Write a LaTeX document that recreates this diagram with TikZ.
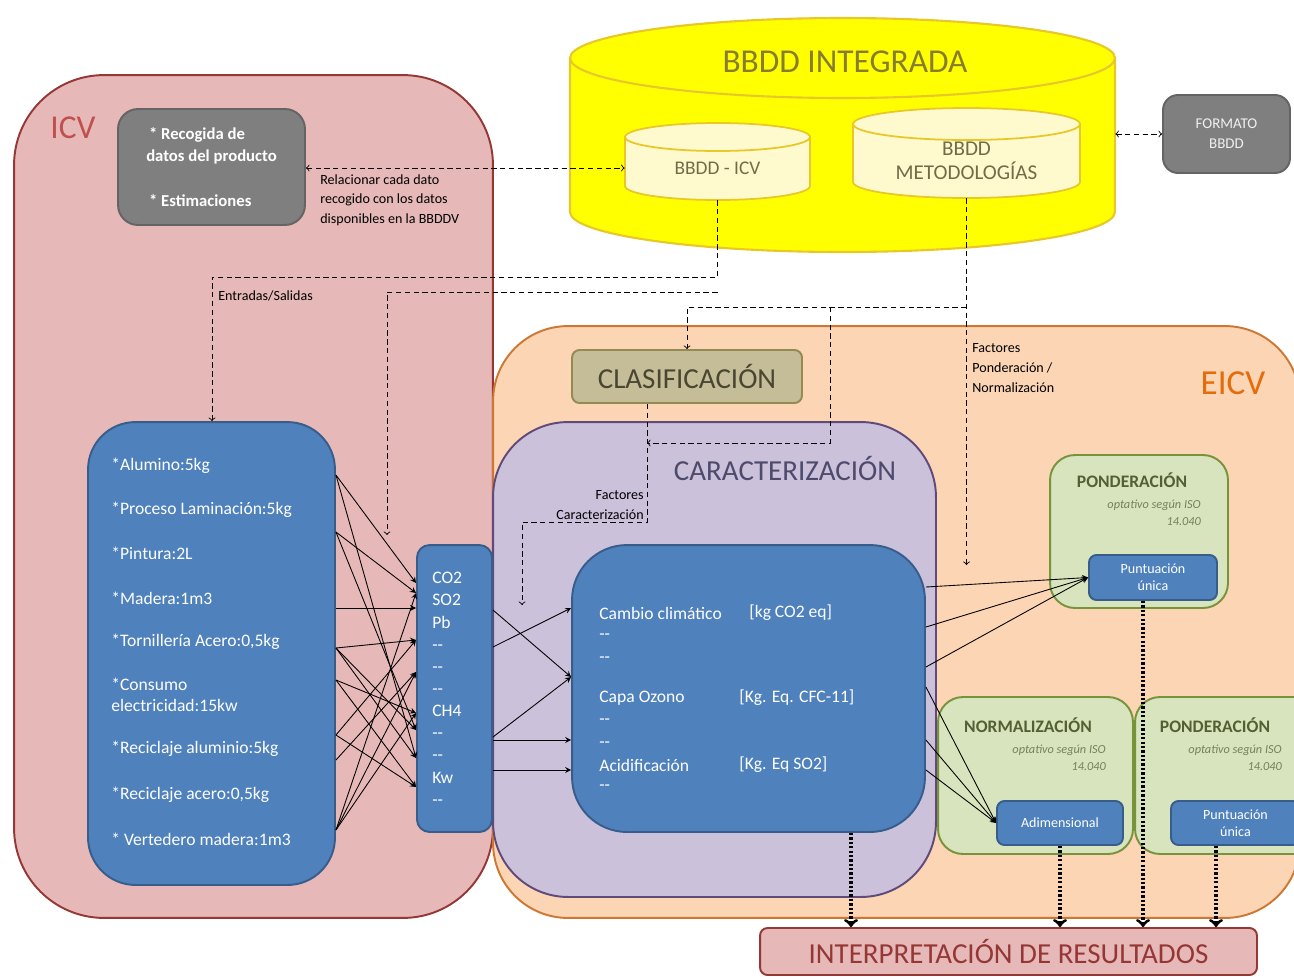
\documentclass[tikz,border=0pt]{standalone}
\usepackage{fontspec}
\setmainfont{Carlito}
\definecolor{icvfill}{RGB}{230,185,184}
\definecolor{icvline}{RGB}{149,55,53}
\definecolor{icvtext}{RGB}{192,80,77}
\definecolor{eicvfill}{RGB}{252,213,181}
\definecolor{eicvline}{RGB}{205,120,50}
\definecolor{eicvtext}{RGB}{228,108,10}
\definecolor{carfill}{RGB}{204,193,218}
\definecolor{carline}{RGB}{96,74,123}
\definecolor{cartext}{RGB}{78,74,108}
\definecolor{bluefill}{RGB}{79,129,189}
\definecolor{blueline}{RGB}{56,93,138}
\definecolor{greenfill}{RGB}{215,228,189}
\definecolor{greenline}{RGB}{119,147,60}
\definecolor{greentext}{RGB}{84,96,52}
\definecolor{olivefill}{RGB}{196,189,151}
\definecolor{oliveline}{RGB}{148,138,84}
\definecolor{clastext}{RGB}{74,70,50}
\definecolor{grayfill}{RGB}{127,127,127}
\definecolor{grayline}{RGB}{100,100,100}
\definecolor{dbyellow}{RGB}{255,255,0}
\definecolor{dbline}{RGB}{232,200,40}
\definecolor{dbcream}{RGB}{255,250,205}
\definecolor{dbtext}{RGB}{135,125,50}
\definecolor{dbsmalltext}{RGB}{112,108,72}
\tikzset{
  box/.style={draw,line width=1.1pt,inner sep=0pt},
  bluebox/.style={box,fill=bluefill,draw=blueline,text=white,rounded corners=0.15cm,
    align=center,font=\fontsize{8}{9.5}\selectfont},
  greenbox/.style={box,fill=greenfill,draw=greenline,rounded corners=0.5cm,
    minimum width=3.9cm,minimum height=3.14cm},
  grntitle/.style={text=greentext,font=\bfseries\fontsize{10}{12}\selectfont},
  opttxt/.style={text=greentext!80,font=\itshape\fontsize{7}{9.5}\selectfont,align=right,anchor=north east},
  listtxt/.style={text=white,inner sep=0pt,align=left,font=\fontsize{10}{12}\selectfont},
  small/.style={inner sep=0pt,font=\fontsize{8}{11.3}\selectfont},
  bigtxt/.style={font=\fontsize{16.5}{19}\selectfont},
  dline/.style={line width=0.5pt,dash pattern=on 3pt off 2pt},
  cline/.style={-stealth,line width=0.5pt},
  dotline/.style={->,line width=1.8pt,dash pattern=on 1.3pt off 1.2pt}
}
\begin{document}
\begin{tikzpicture}[x=0.02cm,y=-0.02cm]
\useasboundingbox (0,0) rectangle (1294,978);
\clip (0,0) rectangle (1294,978);

% big areas
\node[box,fill=icvfill,draw=icvline,rounded corners=1.8cm,minimum width=9.58cm,minimum height=16.86cm] (icv) at (253.5,496.5) {};
\node[box,fill=eicvfill,draw=eicvline,rounded corners=1.5cm,minimum width=16.14cm,minimum height=11.84cm] (eicv) at (896.5,622) {};
\node[box,fill=carfill,draw=carline,rounded corners=1.5cm,minimum width=8.86cm,minimum height=9.5cm] (car) at (714.5,659.5) {};
\node[text=icvtext,font=\fontsize{19}{22}\selectfont] (icvlbl) at (73,128) {ICV};
\node[text=eicvtext,font=\fontsize{20}{22}\selectfont] (eicvlbl) at (1233,383) {EICV};
\node[bigtxt,text=cartext] (carlbl) at (785,468) {CARACTERIZACIÓN};

% data bases
\draw[fill=dbyellow,draw=dbline,line width=1.2pt] (570,58) -- (570,212) arc[start angle=180,end angle=360,x radius=5.45cm,y radius=0.8cm] -- (1115,58) -- cycle;
\draw[fill=dbyellow,draw=dbline,line width=1.2pt] (842.5,58) ellipse [x radius=5.45cm,y radius=0.8cm];
\node[text=dbtext,font=\fontsize{19}{22}\selectfont] (bbddlbl) at (845,62) {BBDD INTEGRADA};
\node[minimum width=10.9cm,minimum height=4.68cm] (bbdd) at (842.5,135) {};
\draw[fill=dbcream,draw=dbline,line width=1pt] (625,137) -- (625,186) arc[start angle=180,end angle=360,x radius=1.85cm,y radius=0.28cm] -- (810,137) -- cycle;
\draw[fill=dbcream,draw=dbline,line width=1pt] (717.5,137) ellipse [x radius=1.85cm,y radius=0.28cm];
\node[text=dbsmalltext,font=\fontsize{11}{13}\selectfont,minimum width=3.7cm,minimum height=1.28cm] (icvdb) at (717.5,168) {BBDD - ICV};
\draw[fill=dbcream,draw=dbline,line width=1pt] (853,124) -- (853,182) arc[start angle=180,end angle=360,x radius=2.27cm,y radius=0.32cm] -- (1080,124) -- cycle;
\draw[fill=dbcream,draw=dbline,line width=1pt] (966.5,124) ellipse [x radius=2.27cm,y radius=0.32cm];
\node[text=dbsmalltext,font=\fontsize{12}{14}\selectfont,align=center,minimum width=4.54cm,minimum height=1.48cm] (metdb) at (966.5,161) {BBDD\\METODOLOGÍAS};
\node[box,fill=grayfill,draw=grayline,rounded corners=0.3cm,minimum width=2.54cm,minimum height=1.56cm,
  text=white!88!gray,font=\fontsize{8.5}{11.5}\selectfont,align=center] (fmt) at (1226.5,134) {FORMATO\\BBDD};

% ICV
\node[box,fill=grayfill,draw=grayline,rounded corners=0.4cm,minimum width=3.74cm,minimum height=2.32cm,
  text=white,font=\bfseries\fontsize{9.5}{12.5}\selectfont,align=left] (recog) at (211.5,167)
  {\,* Recogida de\\datos del producto\\[13pt]\,* Estimaciones};
\node[small,align=left,anchor=north west] (rellbl) at (320,174) {Relacionar cada dato\\recogido con los datos\\disponibles en la BBDDV};
\node[small,anchor=west] (eslbl) at (218,296) {Entradas/Salidas};
\node[box,fill=bluefill,draw=blueline,rounded corners=0.95cm,minimum width=4.94cm,minimum height=9.26cm] (lbox) at (211.5,653.5) {};
\foreach \y/\t [count=\i] in {466/{*Alumino:5kg},510/{*Proceso Laminación:5kg},553/{*Pintura:2L},
    598/{*Madera:1m3},642/{*Tornillería Acero:0,5kg},695/{*Consumo\\electricidad:15kw},
    749/{*Reciclaje aluminio:5kg},795/{*Reciclaje acero:0,5kg},839/{* Vertedero madera:1m3}}
  \node[listtxt,anchor=west] (inv\i) at (111,\y) {\t};
\node[box,fill=bluefill,draw=blueline,rounded corners=0.25cm,minimum width=1.5cm,minimum height=5.74cm] (mbox) at (454.5,688.5) {};
\node[listtxt,font=\fontsize{10}{12.6}\selectfont,anchor=north west] (gases) at (432,572)
  {CO2\\SO2\\Pb\\-{}-\\-{}-\\-{}-\\CH4\\-{}-\\-{}-\\Kw\\-{}-};

% EICV
\node[box,fill=olivefill,draw=oliveline,rounded corners=0.15cm,minimum width=4.6cm,minimum height=1.06cm,
  bigtxt,text=clastext] (clasif) at (687,376.5) {CLASIFICACIÓN};
\node[small,align=left,anchor=north west] (fplbl) at (972,343) {Factores\\Ponderación /\\Normalización};
\node[small,align=right,anchor=south east] (fclbl) at (644,520) {Factores\\Caracterización};
\node[box,fill=bluefill,draw=blueline,rounded corners=1.1cm,minimum width=7.06cm,minimum height=5.74cm] (cbox) at (748.5,688.5) {};
\foreach \y/\t [count=\i] in {613/{Cambio climático},637/{-{}-},660/{-{}-},698/{Capa Ozono},
    722/{-{}-},745/{-{}-},765/{Acidificación},788/{-{}-}}
  \node[listtxt,anchor=west] (cat\i) at (599,\y) {\t};
\node[listtxt,anchor=west] (unit1) at (749,613) {[kg CO2 eq]};
\node[listtxt,anchor=west] (unit2) at (739,698) {[Kg. Eq. CFC-11]};
\node[listtxt,anchor=west] (unit3) at (739,765) {[Kg. Eq SO2]};

\node[greenbox,minimum width=3.56cm,minimum height=3.06cm] (pond1) at (1139,531.5) {};
\node[grntitle] (pond1lbl) at (1132,480) {PONDERACIÓN};
\node[opttxt] (pond1opt) at (1207,494) {optativo según ISO\\14.040};
\node[bluebox,minimum width=2.56cm,minimum height=0.9cm] (punt1) at (1153,577.5) {Puntuación\\única};
\node[greenbox] (norm) at (1035.5,775.5) {};
\node[grntitle] (normlbl) at (1028,725) {NORMALIZACIÓN};
\node[opttxt] (normopt) at (1112,739) {optativo según ISO\\14.040};
\node[bluebox,minimum width=2.52cm,minimum height=0.88cm] (adim) at (1060,823) {Adimensional};
\node[greenbox] (pond2) at (1232.5,775.5) {};
\node[grntitle] (pond2lbl) at (1215,725) {PONDERACIÓN};
\node[opttxt] (pond2opt) at (1288,739) {optativo según ISO\\14.040};
\node[bluebox,minimum width=2.58cm,minimum height=0.88cm] (punt2) at (1235.5,823) {Puntuación\\única};

\node[box,fill=icvfill,draw=icvline,rounded corners=0.15cm,minimum width=9.94cm,minimum height=0.94cm,
  bigtxt,text=icvline] (interp) at (1008.5,951.5) {INTERPRETACIÓN DE RESULTADOS};

% dashed links
\draw[dline,<->] (recog.east |- icvdb.west) -- (icvdb.west);
\draw[dline,<->] (bbdd.east |- fmt.west) -- (fmt.west);
\coordinate (es1) at (212,277);
\coordinate (es2) at (387,292);
\coordinate (es3) at (387,535);
\draw[dline,->] (icvdb.south) |- (es1) -- (lbox.north -| es1);
\draw[dline,->] (icvdb.south |- es2) -- (es2) -- (es3);
\coordinate (fp1) at (830,307);
\coordinate (fp2) at (metdb.south |- 0,565);
\draw[dline,->] (metdb.south) -- (fp2);
\draw[dline,->] (metdb.south |- fp1) -| (clasif.north);
\coordinate (fc1) at (647,443);
\coordinate (fc2) at (647,522);
\coordinate (fc3) at (522,605);
\draw[dline,->] (fp1) |- (fc1);
\draw[dline,->] (clasif.south -| fc2) -- (fc2) -| (fc3);

% inventory to flows
\foreach \a/\b in {475/583,475/758,532/593,532/730,608/608,648/640,648/730,648/758,
    680/713,680/787,735/787,735/640,760/672,830/593,830/672,830/713}
  \draw[cline] (lbox.east |- 0,\a) -- (mbox.west |- 0,\b);
\foreach \a/\b in {610/677,647/608,737/677,740/740,770/770}
  \draw[cline] (mbox.east |- 0,\a) -- (cbox.west |- 0,\b);
\foreach \a in {587,627,667}
  \draw[cline] (cbox.east |- 0,\a) -- (punt1.west);
\foreach \a in {687,740,770}
  \draw[cline] (cbox.east |- 0,\a) -- (adim.west);

% to interpretation
\draw[dotline] (cbox.south -| 851,0) -- (interp.north -| 851,0);
\draw[dotline] (adim.south) -- (interp.north -| adim.south);
\draw[dotline] (punt1.south -| 1143,0) -- (interp.north -| 1143,0);
\draw[dotline] (punt2.south -| 1216,0) -- (interp.north -| 1216,0);
\end{tikzpicture}
\end{document}
